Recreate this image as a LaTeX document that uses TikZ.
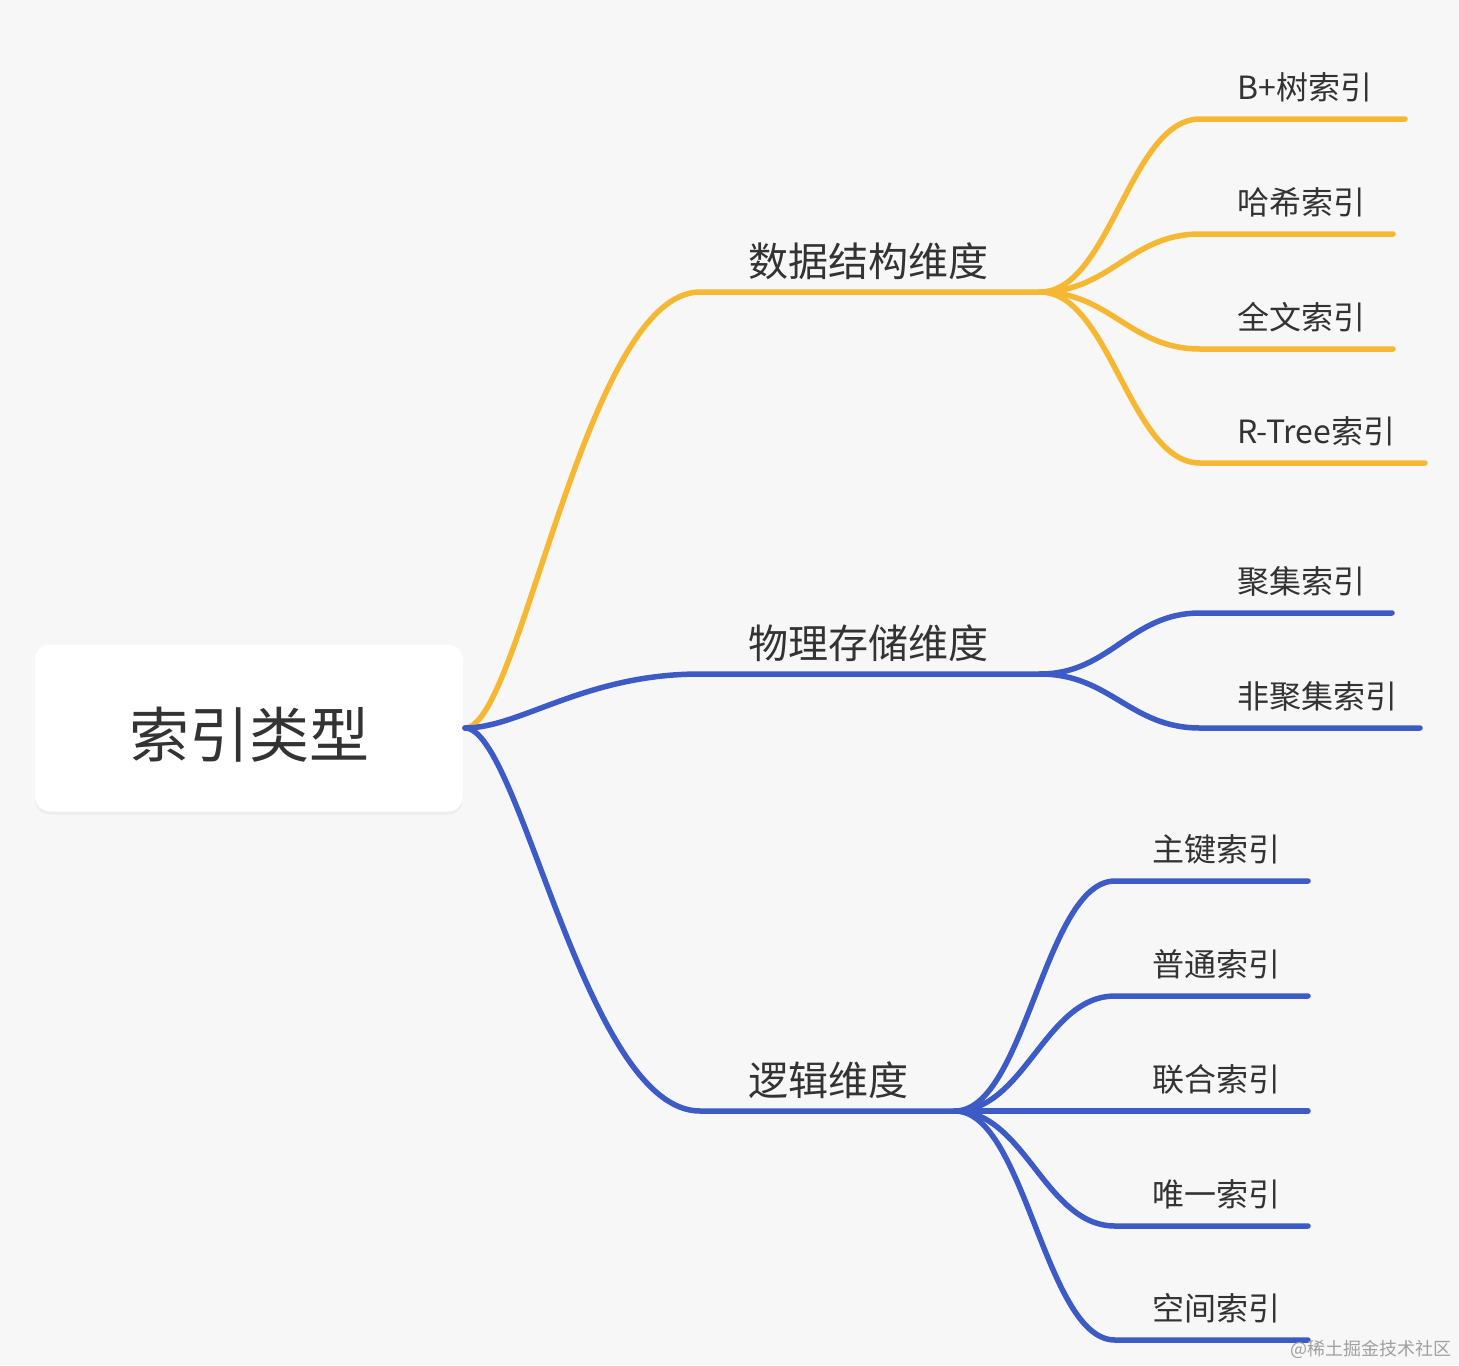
\documentclass[tikz,border=0pt]{standalone}
\usepackage{fontspec}
\setmainfont{Noto Sans CJK SC}
\usepackage{tikz}
\usetikzlibrary{shadows}
\definecolor{bg}{RGB}{247,247,247}
\definecolor{O}{RGB}{246,183,50}
\definecolor{B}{RGB}{61,91,199}
\definecolor{T}{RGB}{51,51,51}
\definecolor{W}{RGB}{160,160,160}
\tikzset{
  rootbox/.style={draw=none, fill=white, rounded corners=7.5pt, minimum width=214pt,
    minimum height=83.5pt, text height=33pt, text depth=3.6pt, text=T,
    font=\fontsize{30pt}{30pt}\selectfont,
    drop shadow={opacity=0.08, shadow xshift=0pt, shadow yshift=-1.5pt}},
  midlabel/.style={anchor=base west, inner sep=0pt, text=T, font=\fontsize{20pt}{20pt}\selectfont},
  leaflabel/.style={anchor=base west, inner sep=0pt, text=T, font=\fontsize{16pt}{16pt}\selectfont},
  oline/.style={draw=O, line width=2.75pt, line cap=round},
  bline/.style={draw=B, line width=2.75pt, line cap=round},
}
% #1 name, #2 line style, #3 from, #4 x start, #5 y, #6 x end, #7 text
\newcommand{\leaf}[7]{
  \coordinate (#1-l) at (#4,#5);
  \coordinate (#1-r) at (#6,#5);
  \draw[#2] (#3) .. controls +(70,0) and +(-70,0) .. (#1-l) -- (#1-r);
  \node[leaflabel] (#1) at ([shift={(37,-20)}]#1-l) {#7};
}

\begin{document}
\begin{tikzpicture}[x=0.5pt,y=-0.5pt]
\useasboundingbox (0,0) rectangle (1459,1365);
\fill[bg] (0,0) rectangle (1459,1365);

\node[rootbox] (root) at (249,728) {索引类型};
\coordinate (root-o) at (465,728);

% first level
\coordinate (ds-l) at (700,292); \coordinate (ds-r) at (1040,292);
\coordinate (ph-l) at (700,674); \coordinate (ph-r) at (1040,674);
\coordinate (lg-l) at (700,1111); \coordinate (lg-r) at (955,1111);
\draw[oline] (root-o) .. controls +(55,0) and +(-115,0) .. (ds-l) -- (ds-r);
\draw[bline] (root-o) .. controls +(55,0) and +(-115,0) .. (ph-l) -- (ph-r);
\draw[bline] (root-o) .. controls +(55,0) and +(-115,0) .. (lg-l) -- (lg-r);
\node[midlabel] (ds) at ([shift={(48,-16)}]ds-l) {数据结构维度};
\node[midlabel] (ph) at ([shift={(48,-16)}]ph-l) {物理存储维度};
\node[midlabel] (lg) at ([shift={(48,-16)}]lg-l) {逻辑维度};

% second level
\leaf{b1}{oline}{ds-r}{1200}{119}{1405}{B+树索引}
\leaf{b2}{oline}{ds-r}{1200}{234}{1393}{哈希索引}
\leaf{b3}{oline}{ds-r}{1200}{349}{1393}{全文索引}
\leaf{b4}{oline}{ds-r}{1200}{463}{1425}{R-Tree索引}
\leaf{p1}{bline}{ph-r}{1200}{613}{1392}{聚集索引}
\leaf{p2}{bline}{ph-r}{1200}{728}{1420}{非聚集索引}
\leaf{l1}{bline}{lg-r}{1115}{881}{1308}{主键索引}
\leaf{l2}{bline}{lg-r}{1115}{996}{1308}{普通索引}
\leaf{l3}{bline}{lg-r}{1115}{1111}{1308}{联合索引}
\leaf{l4}{bline}{lg-r}{1115}{1226}{1308}{唯一索引}
\leaf{l5}{bline}{lg-r}{1115}{1340}{1308}{空间索引}

\node[anchor=east, inner sep=0pt, text=W, font=\fontsize{9pt}{9pt}\selectfont] (mark) at (1452,1349) {@稀土掘金技术社区};
\end{tikzpicture}
\end{document}
